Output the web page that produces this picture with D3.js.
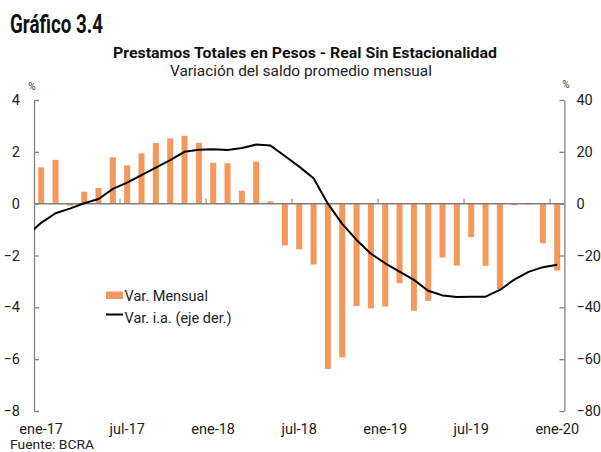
<!DOCTYPE html>
<html>
<head>
<meta charset="utf-8">
<script src="https://cdn.jsdelivr.net/npm/d3@7"></script>
<style>
  html, body { margin: 0; padding: 0; background: #fff; }
  svg { display: block; font-family: Roboto, "Noto Sans", sans-serif; }
</style>
</head>
<body>
<svg id="chart" width="601" height="452"></svg>
<script>
// ---- data ----
const months = ["ene-17","feb-17","mar-17","abr-17","may-17","jun-17","jul-17","ago-17","sep-17","oct-17","nov-17","dic-17",
                "ene-18","feb-18","mar-18","abr-18","may-18","jun-18","jul-18","ago-18","sep-18","oct-18","nov-18","dic-18",
                "ene-19","feb-19","mar-19","abr-19","may-19","jun-19","jul-19","ago-19","sep-19","oct-19","nov-19","dic-19",
                "ene-20"];
// Var. Mensual (%), left axis
const varMensual = [1.40, 1.69, -0.08, 0.46, 0.60, 1.79, 1.48, 1.94, 2.34, 2.52, 2.62, 2.35,
                    1.58, 1.56, 0.50, 1.62, 0.09, -1.61, -1.76, -2.35, -6.38, -5.93, -3.95, -4.04,
                    -3.97, -3.07, -4.13, -3.75, -2.08, -2.39, -1.29, -2.40, -3.30, -0.06, -0.03, -1.53,
                    -2.58];
// Var. i.a. (%), right axis
const varIA = [-7.4, -3.7, -1.9, 0.15, 1.8, 5.7, 8.1, 11.0, 13.9, 16.8, 20.0, 20.8,
               21.0, 20.7, 21.5, 22.8, 22.4, 18.4, 14.3, 9.8, 0.0, -7.8, -14.0, -19.3,
               -23.0, -26.2, -29.4, -33.6, -35.4, -36.0, -35.9, -35.9, -33.3, -29.3, -26.3, -24.5,
               -23.6];
const varIAPrev = -12.2; // dic-16, only partly visible at the left edge
const leftTicks = [-8, -6, -4, -2, 0, 2, 4];
const rightTicks = [-80, -60, -40, -20, 0, 20, 40];
const xLabels = ["ene-17","jul-17","ene-18","jul-18","ene-19","jul-19","ene-20"];

// ---- layout ----
const svg = d3.select("#chart");
const plotL = 34, plotR = 564.4, plotT = 100, plotB = 411;

const x = d3.scaleBand().domain(months).range([plotL, plotR]).paddingInner(0.58).paddingOuter(0.29);
const cx = d => x(d) + x.bandwidth() / 2;
const yL = d3.scaleLinear().domain([-8, 4]).range([plotB, plotT]);
const yR = d3.scaleLinear().domain([-80, 40]).range([plotB, plotT]);

// titles
svg.append("text").attr("x", 10).attr("y", 32.5)
  .attr("font-size", 25).attr("font-weight", 700).attr("fill", "#111")
  .attr("textLength", 93).attr("lengthAdjust", "spacingAndGlyphs")
  .text("Gráfico 3.4");
svg.append("text").attr("x", 305).attr("y", 58).attr("text-anchor", "middle")
  .attr("font-size", 14).attr("font-weight", 700).attr("fill", "#111")
  .attr("textLength", 384).attr("lengthAdjust", "spacingAndGlyphs")
  .text("Prestamos Totales en Pesos - Real Sin Estacionalidad");
svg.append("text").attr("x", 301).attr("y", 76).attr("text-anchor", "middle")
  .attr("font-size", 14).attr("fill", "#222")
  .attr("textLength", 262).attr("lengthAdjust", "spacingAndGlyphs")
  .text("Variación del saldo promedio mensual");

// % unit labels
svg.append("text").attr("x", 32).attr("y", 90).attr("text-anchor", "middle")
  .attr("font-size", 10).attr("fill", "#333").text("%");
svg.append("text").attr("x", 566).attr("y", 88).attr("text-anchor", "middle")
  .attr("font-size", 10).attr("fill", "#333").text("%");

// bars
svg.append("g").selectAll("rect").data(months).join("rect")
  .attr("x", d => x(d))
  .attr("width", x.bandwidth())
  .attr("y", (d, i) => yL(Math.max(0, varMensual[i])))
  .attr("height", (d, i) => Math.abs(yL(varMensual[i]) - yL(0)))
  .attr("fill", "#F4995B");

// zero axis line with ticks at category boundaries every 6 months
const axisColor = "#808080";
svg.append("line").attr("x1", plotL).attr("x2", plotR)
  .attr("y1", yL(0)).attr("y2", yL(0))
  .attr("stroke", axisColor).attr("stroke-width", 1.5);
svg.append("g").selectAll("line").data(xLabels.slice(1)).join("line")
  .attr("x1", d => cx(d) - x.step() / 2).attr("x2", d => cx(d) - x.step() / 2)
  .attr("y1", yL(0)).attr("y2", yL(0) - 5)
  .attr("stroke", axisColor).attr("stroke-width", 1);

// x labels at bottom
svg.append("g").selectAll("text").data(xLabels).join("text")
  .attr("x", d => cx(d)).attr("y", 434).attr("text-anchor", "middle")
  .attr("font-size", 14.5).attr("fill", "#222").text(d => d);

// left axis
const gL = svg.append("g").attr("transform", `translate(${plotL},0)`)
  .call(d3.axisLeft(yL).tickValues(leftTicks).tickSizeInner(-5).tickSizeOuter(0).tickPadding(14));
// right axis
const gR = svg.append("g").attr("transform", `translate(${plotR},0)`)
  .call(d3.axisRight(yR).tickValues(rightTicks).tickSizeInner(-5).tickSizeOuter(0).tickPadding(12));
[gL, gR].forEach(g => {
  g.select(".domain").attr("stroke", axisColor).attr("stroke-width", 1.3);
  g.selectAll(".tick line").attr("stroke", axisColor).attr("stroke-width", 1.3);
  g.selectAll(".tick text").attr("font-size", 14.5).attr("fill", "#222")
    .attr("font-family", "Roboto, sans-serif");
});

// line (right axis), clipped to plot area
svg.append("clipPath").attr("id", "plotclip").append("rect")
  .attr("x", plotL).attr("y", 0).attr("width", plotR - plotL).attr("height", 452);
const linePts = [[cx(months[0]) - x.step(), yR(varIAPrev)]]
  .concat(months.map((m, i) => [cx(m), yR(varIA[i])]));
svg.append("path").attr("d", d3.line()(linePts))
  .attr("clip-path", "url(#plotclip)")
  .attr("fill", "none").attr("stroke", "#000").attr("stroke-width", 2)
  .attr("stroke-linejoin", "round");

// legend
const lg = svg.append("g");
lg.append("rect").attr("x", 106).attr("y", 291.5).attr("width", 17).attr("height", 7.5).attr("fill", "#F4995B");
lg.append("text").attr("x", 124.5).attr("y", 300.5).attr("font-size", 14.5).attr("fill", "#222").text("Var. Mensual");
lg.append("line").attr("x1", 106).attr("x2", 123).attr("y1", 314.5).attr("y2", 314.5)
  .attr("stroke", "#000").attr("stroke-width", 2);
lg.append("text").attr("x", 124.5).attr("y", 323).attr("font-size", 14.5).attr("fill", "#222").text("Var. i.a. (eje der.)");

// source
svg.append("text").attr("x", 10).attr("y", 449).attr("font-size", 12.5)
  .attr("textLength", 84).attr("lengthAdjust", "spacingAndGlyphs")
  .attr("fill", "#222").text("Fuente: BCRA");
</script>
</body>
</html>
